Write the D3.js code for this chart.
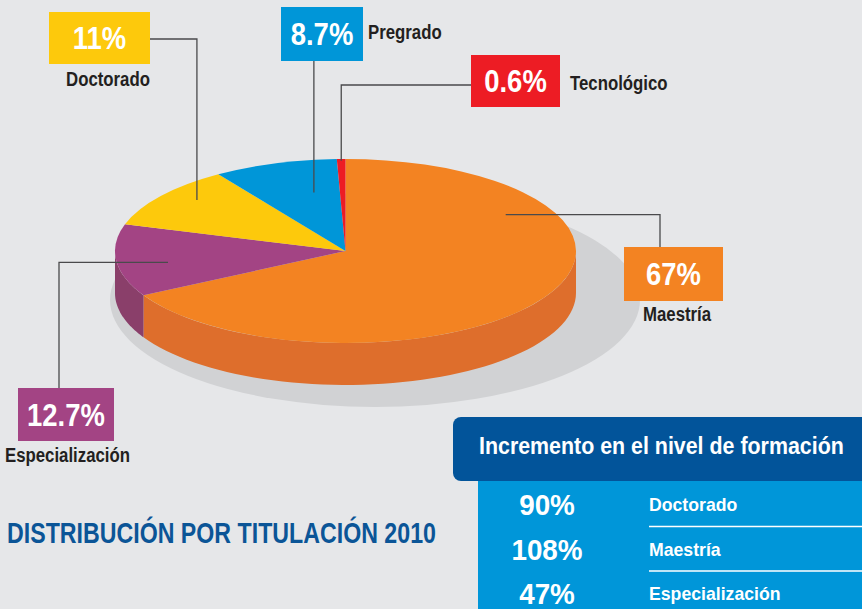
<!doctype html>
<html>
<head>
	<meta charset="utf-8">
	<title>Distribución por titulación 2010</title>
	<script src="https://cdnjs.cloudflare.com/ajax/libs/d3/7.8.5/d3.min.js"></script>
	<style>
		html, body { margin: 0; padding: 0; background: #e6e7e9; }
		svg { display: block; }
		text { font-family: "Liberation Sans", Arial, sans-serif; font-weight: bold; }
	</style>
</head>
<body>
	<script>
		// pie data, clockwise from 12 o'clock
		var levels = ['Maestría', 'Especialización', 'Doctorado', 'Pregrado', 'Tecnológico'];
		var shares = [67, 12.7, 11, 8.7, 0.6];
		var shareLabels = ['67%', '12.7%', '11%', '8.7%', '0.6%'];

		// table "Incremento en el nivel de formación"
		var growthLevels = ['Doctorado', 'Maestría', 'Especialización'];
		var growthValues = [90, 108, 47];

		var colors = ['#f38322', '#a34484', '#fdc90c', '#0096d8', '#ed1c24'];
		var sideColors = ['#de6e2c', '#8a3f6a', '#d9a90a', '#007db5', '#c1151c'];

		var width = 862, height = 609;
		var cx = 345.5, cy = 251, rx = 230.5, ry = 92, depth = 42;

		// label box layout: box x, y, w, h; name position; leader route
		var boxes = [
			{ x: 624, y: 247, w: 99, h: 54, nx: 643, ny: 321, anchor: 'start', lead: [660, 247], t: 0.25, k: 0.8 },
			{ x: 18, y: 388, w: 96, h: 53, nx: 5, ny: 462, anchor: 'start', lead: [59, 388], t: 0.43, k: 0.78 },
			{ x: 49, y: 12, w: 101, h: 52, nx: 108, ny: 86, anchor: 'middle', lead: [150, 39], t: 0.6, k: 0.85 },
			{ x: 281, y: 7, w: 82, h: 54, nx: 368, ny: 39, anchor: 'start', lead: null, t: 0.68, k: 0.65 },
			{ x: 471, y: 55, w: 89, h: 52, nx: 570, ny: 90, anchor: 'start', lead: [471, 85], t: 0.5, k: 0.98 }
		];

		// narrow the text like a condensed face (f < 1 is a factor, f > 1 a target width)
		function squeeze(sel, f) {
			sel.each(function () {
				var t = d3.select(this);
				var w = this.getComputedTextLength();
				var s = f > 1 ? f / w : f;
				var x = +t.attr('x'), y = +t.attr('y');
				t.attr('x', 0).attr('y', 0)
					.attr('transform', 'translate(' + x + ',' + y + ') scale(' + s + ',1)');
			});
		}

		var svg = d3.select('body').append('svg')
			.attr('width', width)
			.attr('height', height);

		svg.append('rect')
			.attr('width', width)
			.attr('height', height)
			.attr('fill', '#e6e7e9');

		// shadow under the pie
		svg.append('ellipse')
			.attr('cx', 375)
			.attr('cy', 300)
			.attr('rx', 265)
			.attr('ry', 107)
			.attr('fill', '#d1d2d4');

		var pie = d3.pie().sort(null).startAngle(0).endAngle(2 * Math.PI);
		var arcs = pie(shares);

		function proj(a, k) {
			return [cx + rx * k * Math.sin(a), cy - ry * k * Math.cos(a)];
		}

		// side walls (only the front half is visible)
		var line = d3.line();
		arcs.forEach(function (d, i) {
			var a0 = Math.max(d.startAngle, Math.PI / 2);
			var a1 = Math.min(d.endAngle, 3 * Math.PI / 2);
			if (a1 <= a0) return;
			var top = d3.range(0, 61).map(function (j) { return proj(a0 + (a1 - a0) * j / 60, 1); });
			var bottom = top.slice().reverse().map(function (p) { return [p[0], p[1] + depth]; });
			svg.append('path')
				.attr('d', line(top.concat(bottom)) + 'Z')
				.attr('fill', sideColors[i]);
		});

		// top faces: a circular arc squashed into the ellipse
		var arc = d3.arc().innerRadius(0).outerRadius(rx);
		svg.append('g')
			.attr('transform', 'translate(' + cx + ',' + cy + ') scale(1,' + (ry / rx) + ')')
			.selectAll('path')
			.data(arcs)
			.join('path')
			.attr('d', arc)
			.attr('fill', function (d, i) { return colors[i]; });

		// leader lines
		arcs.forEach(function (d, i) {
			var b = boxes[i];
			var a = d.startAngle + (d.endAngle - d.startAngle) * b.t;
			var p = proj(a, b.k);
			var pts;
			if (b.lead === null) {
				pts = [[p[0], b.y + b.h], p];
			} else if (b.lead[1] === b.y) {
				// leaves the box from the top
				pts = [p, [b.lead[0], p[1]], b.lead];
			} else {
				pts = [b.lead, [p[0], b.lead[1]], p];
			}
			svg.append('path')
				.attr('d', line(pts))
				.attr('fill', 'none')
				.attr('stroke', '#4a4a4c')
				.attr('stroke-width', 1.3);
		});

		// label boxes
		var lab = svg.append('g').selectAll('g')
			.data(arcs)
			.join('g');

		lab.append('rect')
			.attr('x', function (d, i) { return boxes[i].x; })
			.attr('y', function (d, i) { return boxes[i].y; })
			.attr('width', function (d, i) { return boxes[i].w; })
			.attr('height', function (d, i) { return boxes[i].h; })
			.attr('fill', function (d, i) { return colors[i]; });

		lab.append('text')
			.attr('x', function (d, i) { return boxes[i].x + boxes[i].w / 2; })
			.attr('y', function (d, i) { return boxes[i].y + boxes[i].h / 2 + 11; })
			.attr('text-anchor', 'middle')
			.attr('fill', '#fff')
			.attr('font-size', 30.5)
			.text(function (d, i) { return shareLabels[i]; })
			.call(squeeze, 0.9);

		lab.append('text')
			.attr('x', function (d, i) { return boxes[i].nx; })
			.attr('y', function (d, i) { return boxes[i].ny; })
			.attr('text-anchor', function (d, i) { return boxes[i].anchor; })
			.attr('fill', '#231f20')
			.attr('font-size', 21)
			.text(function (d, i) { return levels[i]; })
			.call(squeeze, 0.8);

		// title
		svg.append('text')
			.attr('x', 7)
			.attr('y', 543)
			.attr('fill', '#0b5597')
			.attr('font-size', 29)
			.text('DISTRIBUCIÓN POR TITULACIÓN 2010')
			.call(squeeze, 429);

		// growth table
		var table = svg.append('g');

		table.append('rect')
			.attr('x', 478)
			.attr('y', 470)
			.attr('width', width - 478)
			.attr('height', height - 470)
			.attr('fill', '#0096d9');

		table.append('rect')
			.attr('x', 453)
			.attr('y', 417)
			.attr('width', width - 453 + 20)
			.attr('height', 64)
			.attr('rx', 8)
			.attr('fill', '#02549a');

		table.append('text')
			.attr('x', 479)
			.attr('y', 454)
			.attr('fill', '#fff')
			.attr('font-size', 24.5)
			.text('Incremento en el nivel de formación')
			.call(squeeze, 365);

		var rowY = d3.scalePoint()
			.domain(growthLevels)
			.range([511, 600]);

		table.selectAll('line.sep')
			.data(growthLevels.slice(0, -1))
			.join('line')
			.attr('class', 'sep')
			.attr('x1', 649)
			.attr('x2', width)
			.attr('y1', function (d) { return rowY(d) + 15.5; })
			.attr('y2', function (d) { return rowY(d) + 15.5; })
			.attr('stroke', '#fff')
			.attr('stroke-width', 1.5);

		table.selectAll('text.val')
			.data(growthLevels)
			.join('text')
			.attr('class', 'val')
			.attr('x', 547)
			.attr('y', function (d) { return rowY(d) + 4; })
			.attr('text-anchor', 'middle')
			.attr('fill', '#fff')
			.attr('font-size', 29)
			.text(function (d, i) { return growthValues[i] + '%'; })
			.call(squeeze, 0.96);

		table.selectAll('text.lvl')
			.data(growthLevels)
			.join('text')
			.attr('class', 'lvl')
			.attr('x', 649)
			.attr('y', function (d) { return rowY(d); })
			.attr('fill', '#fff')
			.attr('font-size', 18.6)
			.text(function (d) { return d; })
			.call(squeeze, 0.95);
	</script>
</body>
</html>
